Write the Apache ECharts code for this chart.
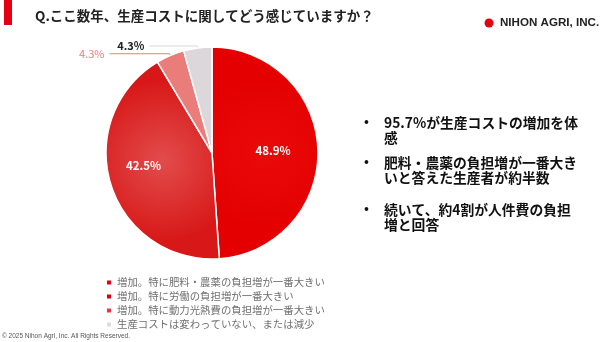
<!DOCTYPE html>
<html>
<head>
<meta charset="utf-8">
<script src="https://cdn.jsdelivr.net/npm/echarts@6/dist/echarts.min.js"></script>
<style>
  html, body { margin: 0; padding: 0; background: #fff; }
  #chart { width: 600px; height: 342px; }
</style>
</head>
<body>
<div id="chart"></div>
<script>
// Survey answers (share of respondents, %)
const categories = [
  '増加。特に肥料・農薬の負担増が一番大きい',
  '増加。特に労働の負担増が一番大きい',
  '増加。特に動力光熱費の負担増が一番大きい',
  '生産コストは変わっていない、または減少'
];
const shares = [48.9, 42.5, 4.3, 4.3];

const legendColors = ['#e60012', '#d7000f', '#e8383d', '#dcdcdc'];

const questionText = 'Q.ここ数年、生産コストに関してどう感じていますか？';
const bulletLines = [
  ['95.7%が生産コストの増加を体', '感'],
  ['肥料・農薬の負担増が一番大き', 'いと答えた生産者が約半数'],
  ['続いて、約4割が人件費の負担', '増と回答']
];

const FONT = '"Noto Sans CJK JP", "Noto Sans", sans-serif';

function radial(inner, outer) {
  return new echarts.graphic.RadialGradient(0.5, 0.5, 0.7, [
    { offset: 0, color: inner },
    { offset: 1, color: outer }
  ]);
}

const sliceStyles = [
  { fill: radial('#ea0a0a', '#e40000'), label: { show: true, position: 'inside', color: '#fff', fontWeight: 'bold', fontSize: 11.5 } },
  { fill: radial('#e24c4c', '#d81818'), label: { show: true, position: 'inside', color: '#fff', fontWeight: 'bold', fontSize: 11.5 } },
  { fill: '#ea7d79', label: { show: true, position: 'outside', color: '#ea7d79', fontSize: 11 }, line: '#ea7d79', len2: 60 },
  { fill: '#dcd7da', label: { show: true, position: 'outside', color: '#222', fontWeight: 'bold', fontSize: 11 }, line: '#d8d8d8', len2: 48 }
];

const pieData = categories.map((name, i) => {
  const s = sliceStyles[i];
  const item = {
    name: name,
    value: shares[i],
    itemStyle: { color: s.fill },
    label: Object.assign({ formatter: (p) => p.value.toFixed(1) + '%', fontFamily: FONT }, s.label)
  };
  if (s.line) {
    item.labelLine = { show: true, length: 2, length2: s.len2, lineStyle: { color: s.line, width: 1 } };
  }
  return item;
});

const graphics = [
  { type: 'rect', left: 4, top: 0, shape: { width: 8, height: 25 }, style: { fill: '#e60012' } },
  { type: 'text', left: 35, top: 9, style: { text: questionText, font: 'bold 13.5px ' + FONT, fill: '#222' } },
  { type: 'circle', shape: { cx: 489, cy: 23, r: 4.5 }, style: { fill: '#e60012' } },
  { type: 'text', left: 500, top: 17, style: { text: 'NIHON AGRI, INC.', font: 'bold 11.6px "Liberation Sans", Arial, sans-serif', fill: '#222' } },
  { type: 'text', left: 2, top: 333, style: { text: '© 2025 Nihon Agri, Inc. All Rights Reserved.', font: '6.5px "Liberation Sans", Arial, sans-serif', fill: '#555' } }
];

const bulletTops = [115, 155, 202];
bulletLines.forEach((lines, i) => {
  graphics.push({ type: 'text', left: 364, top: bulletTops[i], style: { text: '•', font: 'bold 13px ' + FONT, fill: '#111' } });
  graphics.push({ type: 'text', left: 384, top: bulletTops[i], style: { text: lines.join('\n'), font: 'bold 13.8px ' + FONT, lineHeight: 15, fill: '#111' } });
});

const chart = echarts.init(document.getElementById('chart'), null, { renderer: 'canvas' });
chart.setOption({
  animation: false,
  backgroundColor: '#fff',
  graphic: graphics,
  legend: {
    orient: 'vertical',
    left: 100,
    top: 272,
    icon: 'rect',
    itemWidth: 6,
    itemHeight: 6,
    itemGap: 3,
    textStyle: { fontFamily: FONT, fontSize: 10.4, color: '#707070', lineHeight: 11 },
    data: categories.map((name, i) => ({ name: name, itemStyle: { color: legendColors[i] } }))
  },
  series: [{
    type: 'pie',
    center: [212, 153],
    radius: 106,
    startAngle: 90,
    clockwise: true,
    avoidLabelOverlap: false,
    itemStyle: { borderColor: '#fff', borderWidth: 1.5 },
    labelLayout: (p) => (p.dataIndex === 1 ? { dx: -15, dy: -4 } : p.dataIndex === 0 ? { dx: 5 } : {}),
    data: pieData
  }]
});
</script>
</body>
</html>
